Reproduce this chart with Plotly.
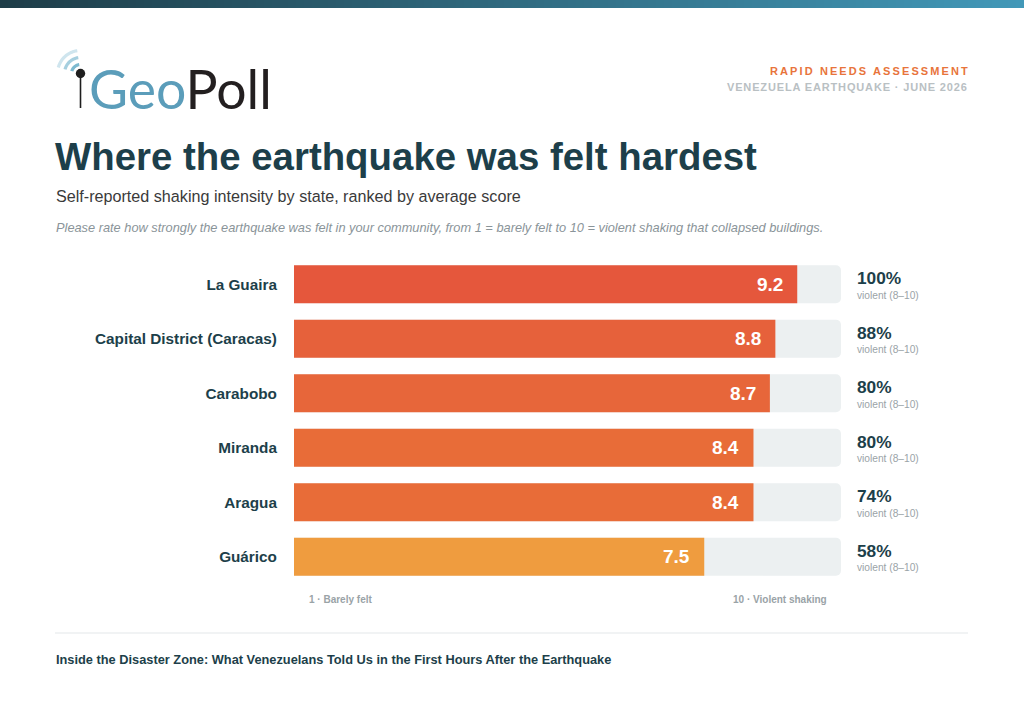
import plotly.graph_objects as go
import numpy as np

# ---------------- data ----------------
states = ["La Guaira", "Capital District (Caracas)", "Carabobo", "Miranda", "Aragua", "Guárico"]
avg_score = [9.2, 8.8, 8.7, 8.4, 8.4, 7.5]
pct_violent = [100, 88, 80, 80, 74, 58]
bar_colors = ["#E5573C", "#E6613B", "#E7663A", "#E86C38", "#E86C38", "#EF9C3F"]
scale_max = 10
scale_low_label = "1 · Barely felt"
scale_high_label = "10 · Violent shaking"
sub_label = "violent (8–10)"

# ---------------- layout geometry ----------------
W, H = 1024, 701
ML, MR, MT, MB = 294, 183, 257, 117
PW, PH = W - ML - MR, H - MT - MB
FONT = "Liberation Sans, Arial, Helvetica, sans-serif"
DARK = "#1D3F4A"
GREY = "#9AA3A7"


def px(x):
    return (x - ML) / PW


def py(y):
    return (H - MB - y) / PH


fig = go.Figure()
fig.add_trace(go.Bar(x=[scale_max] * len(states), y=states, orientation="h",
                     marker=dict(color="#ECF0F1", line=dict(width=0)),
                     width=0.7, hoverinfo="skip", showlegend=False))
fig.add_trace(go.Bar(x=avg_score, y=states, orientation="h",
                     marker=dict(color=bar_colors, line=dict(width=0)),
                     width=0.7, hoverinfo="skip", showlegend=False))

shapes = []
# top gradient band
c0 = np.array([0x1E, 0x3D, 0x48])
c1 = np.array([0x42, 0x98, 0xB8])
nseg = 128
for i in range(nseg):
    t = i / (nseg - 1)
    c = (c0 + (c1 - c0) * t).round().astype(int)
    shapes.append(dict(type="rect", xref="paper", yref="paper",
                       x0=px(i * W / nseg), x1=px((i + 1) * W / nseg + 0.5),
                       y0=py(0), y1=py(8), line=dict(width=0),
                       fillcolor="rgb(%d,%d,%d)" % tuple(c), layer="above"))

# logo: pin + signal arcs
cx, cy = 80.5, 73.5
for r, col in [(9, "#7DBAD0"), (16, "#A6CFDF"), (23, "#CFE5EE")]:
    ang = np.radians(np.linspace(98, 165, 30))
    xs = cx + r * np.cos(ang)
    ys = cy - r * np.sin(ang)
    path = "M " + " L ".join("%.5f,%.5f" % (px(a), py(b)) for a, b in zip(xs, ys))
    shapes.append(dict(type="path", xref="paper", yref="paper", path=path,
                       line=dict(color=col, width=3.2)))
shapes.append(dict(type="line", xref="paper", yref="paper",
                   x0=px(cx), x1=px(cx), y0=py(cy), y1=py(108),
                   line=dict(color="#1E1E1E", width=1.6)))
shapes.append(dict(type="circle", xref="paper", yref="paper",
                   x0=px(cx - 4.7), x1=px(cx + 4.7), y0=py(cy - 4.7), y1=py(cy + 4.7),
                   fillcolor="#1E1E1E", line=dict(width=0)))
# footer rule
shapes.append(dict(type="line", xref="paper", yref="paper",
                   x0=px(55), x1=px(968), y0=py(633), y1=py(633),
                   line=dict(color="#EDEFF0", width=1.5)))

ann = []


def text(x, y, s, size, color, xanchor="left", bold=False, italic=False, family=FONT):
    ann.append(dict(xref="paper", yref="paper", x=px(x), y=py(y), text=s,
                    xanchor=xanchor, yanchor="middle", showarrow=False,
                    font=dict(family=family, size=size, color=color,
                              weight="bold" if bold else "normal",
                              style="italic" if italic else "normal")))


text(87, 88, "<span style='color:#5B9DBA'>Geo</span><span style='color:#231F20'>Poll</span>",
     53.5, "#231F20", family="Lato, Open Sans, sans-serif")
text(972, 71, "<span style='letter-spacing:2.1px'>RAPID NEEDS ASSESSMENT</span>", 11, "#E8743B",
     xanchor="right", bold=True)
text(970, 87, "<span style='letter-spacing:0.85px'>VENEZUELA EARTHQUAKE · JUNE 2026</span>", 11,
     "#B9C0C3", xanchor="right", bold=True)
text(53, 157, "Where the earthquake was felt hardest", 38.4, DARK, bold=True)
text(54, 196, "Self-reported shaking intensity by state, ranked by average score", 16.15, "#3A3A3A")
text(54, 227, "Please rate how strongly the earthquake was felt in your community, "
     "from 1 = barely felt to 10 = violent shaking that collapsed buildings.", 12.8, "#8A9499",
     italic=True)
text(54, 659, "Inside the Disaster Zone: What Venezuelans Told Us in the First Hours After the Earthquake",
     12.8, DARK, bold=True)

# scale end labels
ann.append(dict(xref="paper", yref="paper", x=0, xshift=13, y=py(599), text=scale_low_label,
                xanchor="left", yanchor="middle", showarrow=False,
                font=dict(family=FONT, size=10, color=GREY, weight="bold")))
ann.append(dict(xref="paper", yref="paper", x=1, xshift=-12, y=py(599), text=scale_high_label,
                xanchor="right", yanchor="middle", showarrow=False,
                font=dict(family=FONT, size=10, color=GREY, weight="bold")))

for s, v, p in zip(states, avg_score, pct_violent):
    ann.append(dict(xref="x", yref="y", x=v, y=s, xshift=-12, text="%.1f" % v,
                    xanchor="right", yanchor="middle", showarrow=False,
                    font=dict(family=FONT, size=19, color="white", weight="bold")))
    ann.append(dict(xref="paper", yref="y", x=1, y=s, xshift=14, yshift=6, text="%d%%" % p,
                    xanchor="left", yanchor="middle", showarrow=False,
                    font=dict(family=FONT, size=17.3, color=DARK, weight="bold")))
    ann.append(dict(xref="paper", yref="y", x=1, y=s, xshift=14, yshift=-11, text=sub_label,
                    xanchor="left", yanchor="middle", showarrow=False,
                    font=dict(family=FONT, size=10.2, color=GREY)))

fig.update_layout(
    width=W, height=H, margin=dict(l=ML, r=MR, t=MT, b=MB),
    paper_bgcolor="white", plot_bgcolor="white",
    barmode="overlay", barcornerradius=5, showlegend=False,
    shapes=shapes, annotations=ann,
    xaxis=dict(range=[0, scale_max], visible=False, fixedrange=True),
    yaxis=dict(categoryorder="array", categoryarray=states, autorange="reversed",
               showgrid=False, zeroline=False, showline=False,
               ticks="outside", ticklen=13, tickcolor="rgba(0,0,0,0)",
               tickfont=dict(family=FONT, size=15.3, color=DARK, weight="bold"),
               fixedrange=True),
    font=dict(family=FONT),
)
fig.write_html("out.html", config={"displayModeBar": False})
